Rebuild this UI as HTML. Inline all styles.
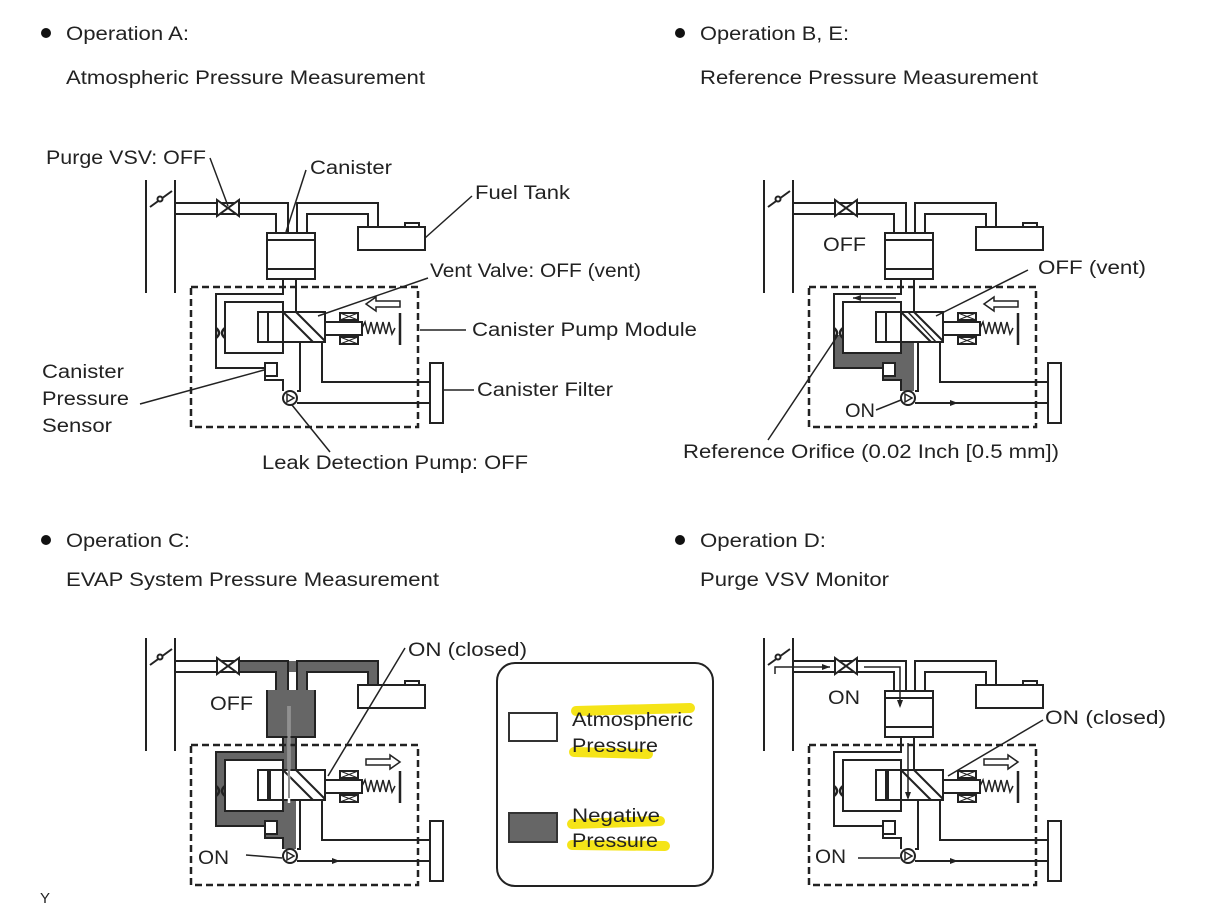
<!DOCTYPE html>
<html><head><meta charset="utf-8"><style>
html,body{margin:0;padding:0;background:#fff;}
svg{display:block;}
text{font-family:"Liberation Sans",Arial,sans-serif;font-size:19px;fill:#222;}
</style></head><body>
<svg width="1216" height="913" viewBox="0 0 1216 913" xmlns="http://www.w3.org/2000/svg">
<defs>
<g id="base" fill="none" stroke="#222" stroke-width="2">
  <line x1="146" y1="180" x2="146" y2="293"/>
  <line x1="175" y1="180" x2="175" y2="293"/>
  <line x1="150" y1="207" x2="172" y2="191"/>
  <circle cx="160" cy="199" r="2.5" fill="#fff"/>
  <path d="M175,203 H288 V233"/>
  <path d="M175,214 H276 V233"/>
  <path d="M217,200 L217,216 L239,200 L239,216 Z" fill="#fff"/>
  <path d="M297,233 V203 H378 V227"/>
  <path d="M307,233 V214 H368 V227"/>
  <rect x="358" y="227" width="67" height="23" fill="#fff"/>
  <path d="M405,227 V223 H419 V227"/>
  <rect x="267" y="233" width="48" height="46" fill="#fff"/>
  <line x1="267" y1="240" x2="315" y2="240"/>
  <line x1="267" y1="269" x2="315" y2="269"/>
  <rect x="191" y="287" width="227" height="140" stroke-dasharray="7,4" stroke-width="2.5"/>
  <path d="M283,279 V294 H216 V368 H265"/>
  <path d="M283,312 V302 H225 V353 H283 V342"/>
  <path d="M296,279 V312"/>
  <path d="M216,328 q6,5 0,10 M225,328 q-6,5 0,10" stroke-width="2.5"/>
  <rect x="265" y="363" width="12" height="13" fill="#fff"/>
  <path d="M265,376 V380 H283 V391"/>
  <rect x="258" y="312" width="67" height="30" fill="#fff"/>
  <line x1="268" y1="312" x2="268" y2="342"/>
  <line x1="283" y1="312" x2="283" y2="342"/>
  <line x1="283" y1="312" x2="313" y2="342"/>
  <line x1="296" y1="312" x2="325" y2="341"/>
  <rect x="325" y="322" width="37" height="13" fill="#fff"/>
  <rect x="340" y="313" width="18" height="7" fill="#fff"/>
  <rect x="340" y="337" width="18" height="7" fill="#fff"/>
  <path d="M340,313 L358,320 M358,313 L340,320 M340,337 L358,344 M358,337 L340,344" stroke-width="1"/>
  <path d="M362,328 l3,-6 l3,12 l3,-12 l3,12 l3,-12 l3,12 l3,-12 l3,12 l3,-12 l3,12 l3,-6" stroke-width="1.5"/>
  <line x1="400" y1="313" x2="400" y2="345" stroke-width="2.5"/>
  <path d="M300,342 V391 H297"/>
  <path d="M322,342 V382 H430"/>
  <line x1="297" y1="403" x2="430" y2="403"/>
  <circle cx="290" cy="398" r="7" fill="#fff"/>
  <path d="M287,394 L294,398 L287,402 Z" stroke-width="1.5"/>
  <rect x="430" y="363" width="13" height="60" fill="#fff"/>
</g>
<path id="arrL" d="M366,304 l10,-7 v4 h24 v6 h-24 v4 z" fill="#fff" stroke="#222" stroke-width="1.5"/>
<path id="arrR" d="M400,304 l-10,-7 v4 h-24 v6 h24 v4 z" fill="#fff" stroke="#222" stroke-width="1.5"/>
</defs>

<circle cx="46" cy="33" r="5" fill="#111"/>
<text x="66" y="40" textLength="123" lengthAdjust="spacingAndGlyphs">Operation A:</text>
<text x="66" y="84" textLength="359" lengthAdjust="spacingAndGlyphs">Atmospheric Pressure Measurement</text>
<circle cx="680" cy="33" r="5" fill="#111"/>
<text x="700" y="40" textLength="149" lengthAdjust="spacingAndGlyphs">Operation B, E:</text>
<text x="700" y="84" textLength="338" lengthAdjust="spacingAndGlyphs">Reference Pressure Measurement</text>
<circle cx="46" cy="540" r="5" fill="#111"/>
<text x="66" y="547" textLength="124" lengthAdjust="spacingAndGlyphs">Operation C:</text>
<text x="66" y="586" textLength="373" lengthAdjust="spacingAndGlyphs">EVAP System Pressure Measurement</text>
<circle cx="680" cy="540" r="5" fill="#111"/>
<text x="700" y="547" textLength="126" lengthAdjust="spacingAndGlyphs">Operation D:</text>
<text x="700" y="586" textLength="189" lengthAdjust="spacingAndGlyphs">Purge VSV Monitor</text>

<use href="#base"/>
<use href="#arrL"/>
<g stroke="#222" stroke-width="1.5" fill="none">
  <path d="M210,158 L228,206"/>
  <path d="M306,170 L286,232"/>
  <path d="M472,196 L425,238"/>
  <path d="M428,278 L318,316"/>
  <path d="M466,330 L420,330"/>
  <path d="M140,404 L264,370"/>
  <path d="M474,390 L443,390"/>
  <path d="M330,452 L292,405"/>
</g>
<text x="46" y="164" textLength="160" lengthAdjust="spacingAndGlyphs">Purge VSV: OFF</text>
<text x="310" y="174" textLength="82" lengthAdjust="spacingAndGlyphs">Canister</text>
<text x="475" y="199" textLength="95" lengthAdjust="spacingAndGlyphs">Fuel Tank</text>
<text x="430" y="277" textLength="211" lengthAdjust="spacingAndGlyphs">Vent Valve: OFF (vent)</text>
<text x="472" y="336" textLength="225" lengthAdjust="spacingAndGlyphs">Canister Pump Module</text>
<text x="42" y="378" textLength="82" lengthAdjust="spacingAndGlyphs">Canister</text>
<text x="42" y="405" textLength="87" lengthAdjust="spacingAndGlyphs">Pressure</text>
<text x="42" y="432" textLength="70" lengthAdjust="spacingAndGlyphs">Sensor</text>
<text x="477" y="396" textLength="136" lengthAdjust="spacingAndGlyphs">Canister Filter</text>
<text x="262" y="469" textLength="266" lengthAdjust="spacingAndGlyphs">Leak Detection Pump: OFF</text>

<g transform="translate(618,0)">
  <path d="M216,335 V368 H265 V380 H283 V391 H296 V342 H283 V353 H225 V335 Z" fill="#666"/>
  <use href="#base"/>
  <use href="#arrL"/>
  <path d="M290,312 L318,342" stroke="#222" stroke-width="1.5"/>
  <path d="M278,298 H235" stroke="#222" stroke-width="1.5"/>
  <path d="M235,298 l8,-3 v6 z" fill="#222"/>
  <path d="M300,403 H340" stroke="#222" stroke-width="1.5"/>
  <path d="M340,403 l-8,-3 v6 z" fill="#222"/>
  <g stroke="#222" stroke-width="1.5" fill="none">
    <path d="M410,270 L318,316"/>
    <path d="M258,410 L283,400"/>
    <path d="M150,440 L220,335"/>
  </g>
</g>
<text x="823" y="251" textLength="43" lengthAdjust="spacingAndGlyphs">OFF</text>
<text x="1038" y="274" textLength="108" lengthAdjust="spacingAndGlyphs">OFF (vent)</text>
<text x="845" y="417" textLength="30" lengthAdjust="spacingAndGlyphs">ON</text>
<text x="683" y="458" textLength="376" lengthAdjust="spacingAndGlyphs">Reference Orifice (0.02 Inch [0.5 mm])</text>

<g transform="translate(0,458)">
  <g fill="#666">
    <path d="M239,203 H378 V227 H358 V232 H425 V227 H368 V214 H307 V233 H297 V214 H288 V203 Z"/>
    <path d="M239,203 H288 V233 H276 V214 H239 Z"/>
    <rect x="267" y="233" width="48" height="46"/>
    <path d="M283,279 V294 H216 V368 H265 V380 H283 V391 H296 V279 Z"/>
    <path d="M358,232 H425 V240 H358Z"/>
  </g>
  <rect x="225" y="302" width="58" height="51" fill="#fff"/>
  <use href="#base"/>
  <rect x="268" y="232" width="46" height="46" fill="#666" stroke="none"/>
  <rect x="270" y="312" width="13" height="30" fill="#fff" stroke="#222" stroke-width="2"/>
  <path d="M289,248 V345" stroke="#fff" stroke-width="2.5"/>
  <path d="M289,248 V340" stroke="#222" stroke-width="1"/>
  <use href="#arrR"/>
  <path d="M300,403 H340" stroke="#222" stroke-width="1.5"/>
  <path d="M340,403 l-8,-3 v6 z" fill="#222"/>
  <g stroke="#222" stroke-width="1.5" fill="none">
    <path d="M405,190 L328,318"/>
    <path d="M246,397 L282,400"/>
  </g>
</g>
<text x="210" y="710" textLength="43" lengthAdjust="spacingAndGlyphs">OFF</text>
<text x="408" y="656" textLength="119" lengthAdjust="spacingAndGlyphs">ON (closed)</text>
<text x="198" y="864" textLength="31" lengthAdjust="spacingAndGlyphs">ON</text>

<rect x="497" y="663" width="216" height="223" rx="18" fill="#fff" stroke="#222" stroke-width="2"/>
<rect x="509" y="713" width="48" height="28" fill="#fff" stroke="#333" stroke-width="2"/>
<rect x="509" y="813" width="48" height="29" fill="#666" stroke="#333" stroke-width="2"/>
<g stroke="#f4e200" stroke-width="10" stroke-linecap="round" opacity="0.9">
  <line x1="576" y1="711" x2="690" y2="708"/>
  <line x1="574" y1="752" x2="648" y2="754"/>
  <line x1="572" y1="824" x2="660" y2="821"/>
  <line x1="572" y1="845" x2="665" y2="846"/>
</g>
<text x="572" y="726" textLength="121" lengthAdjust="spacingAndGlyphs">Atmospheric</text>
<text x="572" y="752" textLength="86" lengthAdjust="spacingAndGlyphs">Pressure</text>
<text x="572" y="822" textLength="88" lengthAdjust="spacingAndGlyphs">Negative</text>
<text x="572" y="847" textLength="86" lengthAdjust="spacingAndGlyphs">Pressure</text>

<g transform="translate(618,458)">
  <use href="#base"/>
  <use href="#arrR"/>
  <rect x="270" y="312" width="13" height="30" fill="#fff" stroke="#222" stroke-width="2"/>
  <g stroke="#222" stroke-width="1.5" fill="none">
    <path d="M157,216 V209 H212"/>
    <path d="M246,209 H282 V248"/>
    <path d="M290,285 V340"/>
    <path d="M425,262 L330,318"/>
    <path d="M240,400 L282,400"/>
    <path d="M300,403 H340"/>
  </g>
  <path d="M212,209 l-8,-3 v6 z" fill="#222"/>
  <path d="M282,250 l-3,-8 h6 z" fill="#222"/>
  <path d="M290,342 l-3,-8 h6 z" fill="#222"/>
  <path d="M340,403 l-8,-3 v6 z" fill="#222"/>
</g>
<text x="828" y="704" textLength="32" lengthAdjust="spacingAndGlyphs">ON</text>
<text x="1045" y="724" textLength="121" lengthAdjust="spacingAndGlyphs">ON (closed)</text>
<text x="815" y="863" textLength="31" lengthAdjust="spacingAndGlyphs">ON</text>

<text x="40" y="903" style="font-size:15px">Y</text>
</svg>
</body></html>
